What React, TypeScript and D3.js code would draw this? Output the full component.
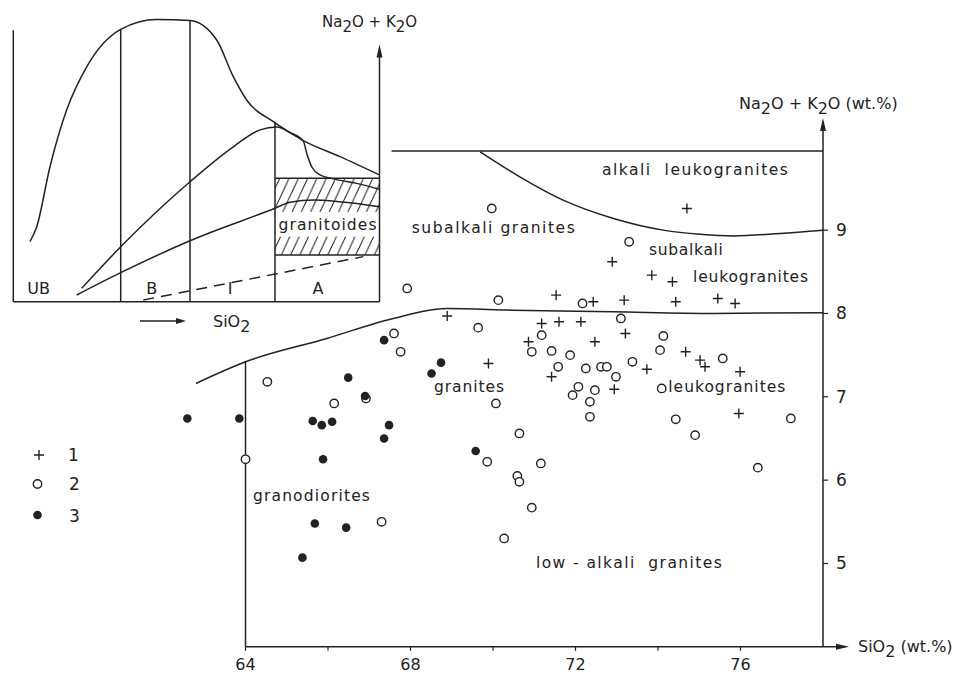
import React from 'react'
import * as d3 from 'd3'

// [SiO2 wt.%, Na2O+K2O wt.%]
// 1 = crosses
const series1: [number, number][] = [
  [68.89, 7.97], [69.89, 7.40], [74.70, 9.26], [72.89, 8.62], [73.85, 8.46],
  [74.35, 8.38], [71.53, 8.22], [72.43, 8.14], [73.18, 8.16], [74.43, 8.14],
  [75.45, 8.18], [75.87, 8.12], [71.18, 7.88], [71.60, 7.90], [72.13, 7.90],
  [73.21, 7.76], [70.86, 7.66], [72.47, 7.66], [74.67, 7.54], [75.02, 7.44],
  [75.14, 7.36], [75.99, 7.30], [71.42, 7.24], [73.73, 7.33], [72.94, 7.09],
  [75.96, 6.80],
]
// 2 = open circles
const series2: [number, number][] = [
  [67.60, 7.76], [67.76, 7.54], [69.64, 7.83], [64.53, 7.18], [66.15, 6.92],
  [66.92, 6.98], [64.00, 6.25], [69.86, 6.22], [70.07, 6.92], [67.30, 5.50],
  [69.97, 9.26], [73.30, 8.86], [67.92, 8.30], [70.13, 8.16], [72.17, 8.12],
  [73.10, 7.94], [74.13, 7.73], [71.18, 7.74], [70.94, 7.54], [71.42, 7.55],
  [71.87, 7.50], [74.05, 7.56], [75.57, 7.46], [71.58, 7.36], [72.25, 7.34],
  [72.62, 7.36], [72.76, 7.36], [72.98, 7.24], [73.38, 7.42], [72.07, 7.12],
  [71.93, 7.02], [72.47, 7.08], [72.35, 6.94], [72.35, 6.76], [74.09, 7.10],
  [74.43, 6.73], [77.22, 6.74], [74.90, 6.54], [70.64, 6.56], [71.16, 6.20],
  [70.59, 6.05], [70.64, 5.98], [76.42, 6.15], [70.94, 5.67], [70.27, 5.30],
]
// 3 = filled circles
const series3: [number, number][] = [
  [67.36, 7.68], [68.74, 7.41], [68.51, 7.28], [66.49, 7.23], [66.90, 7.01],
  [62.59, 6.74], [63.85, 6.74], [65.63, 6.71], [65.85, 6.66], [66.10, 6.70],
  [67.48, 6.66], [67.36, 6.50], [65.88, 6.25], [69.58, 6.35], [65.68, 5.48],
  [66.44, 5.43], [65.38, 5.07],
]

const xTicks = [64, 66, 68, 70, 72, 74, 76]
const xTickLabels = [64, 68, 72, 76]
const yTicks = [5, 6, 7, 8, 9]

// field boundaries
const topLine: [number, number][] = [[67.54, 9.95], [78, 9.95]]
const alkaliCurve: [number, number][] = [
  [69.69, 9.94], [70.65, 9.64], [71.70, 9.36], [72.92, 9.14], [74.13, 9.0],
  [75.02, 8.95], [75.83, 8.93], [76.96, 8.96], [78, 9.0],
]
const graniteCurve: [number, number][] = [
  [62.80, 7.16], [64.0, 7.42], [65.97, 7.70], [67.58, 7.94], [68.88, 8.06],
  [70.49, 8.04], [72.92, 8.02], [75.34, 8.0], [78, 8.01],
]
const granodioriteEdge: [number, number][] = [[64.0, 7.42], [64.0, 4]]

// [text, x, y, width]
const fieldLabels: [string, number, number, number][] = [
  ['alkali  leukogranites', 72.64, 9.66, 186],
  ['subalkali granites', 68.03, 8.97, 163],
  ['subalkali', 73.78, 8.70, 74],
  ['leukogranites', 74.85, 8.38, 115],
  ['granites', 68.57, 7.06, 70],
  ['leukogranites', 74.25, 7.06, 117],
  ['granodiorites', 64.18, 5.75, 117],
  ['low - alkali  granites', 71.04, 4.95, 186],
]

// inset sketch, own units 0..100
const insetOuter: [number, number][] = [
  [4.56, 21.3], [6.39, 26.6], [10.02, 47.9], [14.58, 68.1], [20.04, 83.4],
  [29.33, 96.7], [39.16, 100.2], [48.25, 99.8], [55.54, 92.9], [60.08, 79.9],
  [63.73, 71.6], [71.0, 63.9], [79.19, 57.2], [89.21, 51.5], [100, 45.0],
]
const insetMiddle: [number, number][] = [
  [18.68, 4.76], [29.33, 19.5], [48.25, 42.6], [60.08, 55.0], [67.37, 61.0],
  [71.93, 62.0], [75.56, 60.1], [79.19, 57.0], [80.12, 52.7], [81.49, 47.9],
  [83.75, 45.0], [87.38, 43.6], [93.77, 42.0], [100, 39.9],
]
const insetLower: [number, number][] = [
  [17.31, 2.38], [29.33, 10.3], [48.25, 21.65], [71.46, 33.16], [75.56, 35.29],
  [81.92, 36.1], [89.21, 35.5], [100, 33.72],
]
const insetDashed: [number, number][] = [[35.5, 0.6], [95.58, 16.0]]
const insetDividers: [number, number][] = [[29.33, 96.7], [48.25, 99.8], [71.46, 63.9]]
const insetBand = { x0: 71.46, x1: 100, y0: 16.6, y1: 43.8, gapLow: 23.1, gapHigh: 31.9 }
const insetLabels: [string, number][] = [['UB', 6.9], ['B', 37.8], ['I', 59.2], ['A', 83.2]]

const ink = '#222'
const font = "'DejaVu Sans', 'Liberation Sans', sans-serif"

export default function App() {
  const x = d3.scaleLinear().domain([64, 78]).range([245.5, 823])
  const y = d3.scaleLinear().domain([4, 10]).range([646.8, 146.8])
  const ix = d3.scaleLinear().domain([0, 100]).range([13.3, 379.5])
  const iy = d3.scaleLinear().domain([0, 100]).range([301.7, 20])

  const line = d3.line<[number, number]>().x(d => x(d[0])).y(d => y(d[1])).curve(d3.curveMonotoneX)
  const straight = d3.line<[number, number]>().x(d => x(d[0])).y(d => y(d[1]))
  const iline = d3.line<[number, number]>().x(d => ix(d[0])).y(d => iy(d[1])).curve(d3.curveMonotoneX)
  const istraight = d3.line<[number, number]>().x(d => ix(d[0])).y(d => iy(d[1]))

  const x0 = x(64), x1 = x(78), y0 = y(4)
  const yTop = 118

  const sub = (s: string) => <tspan dy={5}>{s}</tspan>

  return (
    <svg width={961} height={675} style={{ position: 'absolute', left: 0, top: 0, background: '#fff' }}
      fontFamily={font} fill={ink}>
      <defs>
        <pattern id="hatch" patternUnits="userSpaceOnUse" width={9.3} height={20}>
          <path d="M-9.3,20 L0,0 M0,20 L9.3,0 M9.3,20 L18.6,0" stroke={ink} strokeWidth={1} />
        </pattern>
      </defs>
      <rect width={961} height={675} fill="#fff" />

      {/* ---------- inset sketch ---------- */}
      <g fill="none" stroke={ink} strokeWidth={1.5}>
        <rect x={ix(insetBand.x0)} width={ix(insetBand.x1) - ix(insetBand.x0)}
          y={iy(insetBand.y1)} height={iy(insetBand.gapHigh) - iy(insetBand.y1)} fill="url(#hatch)" stroke="none" />
        <rect x={ix(insetBand.x0)} width={ix(insetBand.x1) - ix(insetBand.x0)}
          y={iy(insetBand.gapLow)} height={iy(insetBand.y0) - iy(insetBand.gapLow)} fill="url(#hatch)" stroke="none" />
        <line x1={ix(insetBand.x0)} x2={ix(insetBand.x1)} y1={iy(insetBand.y1)} y2={iy(insetBand.y1)} />
        <line x1={ix(insetBand.x0)} x2={ix(insetBand.x1)} y1={iy(insetBand.y0)} y2={iy(insetBand.y0)} />
        <path d={iline(insetOuter)!} />
        <path d={iline(insetMiddle)!} />
        <path d={iline(insetLower)!} />
        <path d={istraight(insetDashed)!} strokeDasharray="11,7" />
        {insetDividers.map((d, i) => (
          <line key={i} x1={ix(d[0])} x2={ix(d[0])} y1={iy(d[1])} y2={iy(0)} />
        ))}
        <line x1={ix(0)} x2={ix(0)} y1={iy(96.4)} y2={iy(0)} />
        <line x1={ix(0)} x2={ix(100)} y1={iy(0)} y2={iy(0)} />
        <line x1={ix(100)} x2={ix(100)} y1={iy(0)} y2={iy(87)} />
        <line x1={140} x2={178} y1={321} y2={321} />
      </g>
      <path d={`M${ix(100)},${iy(87) - 12} l-3,13 h6 z`} />
      <path d="M186,321 l-10,-3 v6 z" />
      <text x={ix(85.8)} y={230} fontSize={15.5} textAnchor="middle" textLength={98} lengthAdjust="spacing">granitoides</text>
      {insetLabels.map(([t, u]) => (
        <text key={t} x={ix(u)} y={294} fontSize={16} textAnchor="middle">{t}</text>
      ))}
      <text x={213} y={327} fontSize={16}>SiO{sub('2')}</text>
      <text x={322} y={27} fontSize={15}>Na{sub('2')}<tspan dy={-5}>O + K</tspan>{sub('2')}<tspan dy={-5}>O</tspan></text>

      {/* ---------- main diagram ---------- */}
      <g fill="none" stroke={ink} strokeWidth={1.5}>
        <path d={straight(topLine)!} />
        <path d={line(alkaliCurve)!} />
        <path d={line(graniteCurve)!} />
        <path d={straight(granodioriteEdge)!} />
        <line x1={x0} x2={x1 + 14} y1={y0} y2={y0} />
        <line x1={x1} x2={x1} y1={y0} y2={yTop + 10} />
        {xTicks.map(t => <line key={t} x1={x(t)} x2={x(t)} y1={y0} y2={y0 + 4} strokeWidth={1.2} />)}
        {yTicks.map(t => <line key={t} x1={x1} x2={x1 + 5} y1={y(t)} y2={y(t)} strokeWidth={1.2} />)}
      </g>
      <path d={`M${x1},${yTop} l-3,13 h6 z`} />
      <path d={`M${x1 + 26},${y0} l-13,-3 v6 z`} />

      {xTickLabels.map(t => (
        <text key={t} x={x(t)} y={y0 + 23} fontSize={16} textAnchor="middle">{t}</text>
      ))}
      {yTicks.map(t => (
        <text key={t} x={x1 + 13} y={y(t) + 6} fontSize={17}>{t}</text>
      ))}
      <text x={739} y={109} fontSize={16}>Na{sub('2')}<tspan dy={-5}>O + K</tspan>{sub('2')}<tspan dy={-5}>O (wt.%)</tspan></text>
      <text x={858} y={652} fontSize={16}>SiO{sub('2')}<tspan dy={-5}> (wt.%)</tspan></text>

      {fieldLabels.map(([t, lx, ly, w], i) => (
        <text key={i} x={x(lx)} y={y(ly)} fontSize={15.5} textLength={w} lengthAdjust="spacing"
          style={{ whiteSpace: 'pre' }}>{t}</text>
      ))}

      {/* data points */}
      <g stroke={ink} strokeWidth={1.4} fill="none">
        {series1.map((d, i) => (
          <path key={i} d={`M${x(d[0]) - 5},${y(d[1])} h10 M${x(d[0])},${y(d[1]) - 5} v10`} />
        ))}
        {series2.map((d, i) => (
          <circle key={i} cx={x(d[0])} cy={y(d[1])} r={4.2} fill="#fff" />
        ))}
      </g>
      <g fill={ink}>
        {series3.map((d, i) => (
          <circle key={i} cx={x(d[0])} cy={y(d[1])} r={4.3} />
        ))}
      </g>

      {/* legend */}
      <g stroke={ink} strokeWidth={1.4} fill="none">
        <path d="M34,455 h10 M39,450 v10" />
        <circle cx={37.5} cy={484} r={4.2} />
      </g>
      <circle cx={37.5} cy={515} r={4.3} fill={ink} />
      <text x={68} y={461} fontSize={17}>1</text>
      <text x={69} y={490} fontSize={17}>2</text>
      <text x={69} y={522} fontSize={17}>3</text>
    </svg>
  )
}
